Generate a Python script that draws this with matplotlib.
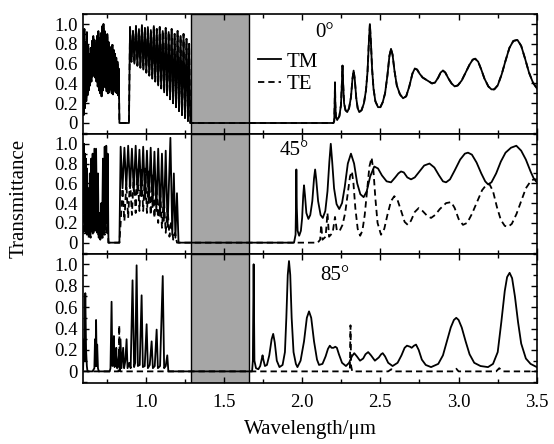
import numpy as np
import matplotlib
matplotlib.use("Agg")
import matplotlib.pyplot as plt
from matplotlib.ticker import MultipleLocator, FuncFormatter

plt.rcParams['font.family'] = ['Liberation Serif', 'DejaVu Serif']

# Spectral window covered by the gray band (um)
GAP_BAND = (1.29, 1.66)

# ---- 0 deg incidence (TE == TM at normal incidence) ----
# densely oscillating short-wave region, sampled evenly on 0.600..0.832 um
T0_DENSE_RANGE = (0.600, 0.832)
T0_DENSE = [0.88, 0.08, 0.95, 0.15, 0.82, 0.22, 0.92, 0.28, 0.78, 0.33,
            0.70, 0.38, 0.76, 0.42, 0.83, 0.47, 0.88, 0.50, 0.84, 0.46,
            0.79, 0.42, 0.88, 0.37, 0.93, 0.33, 0.86, 0.30, 0.91, 0.27,
            0.98, 0.33, 1.00, 0.38, 0.93, 0.36, 0.86, 0.32, 0.90, 0.30,
            0.82, 0.31, 0.77, 0.34, 0.72, 0.30, 0.79, 0.29, 0.74, 0.33,
            0.70, 0.31, 0.66, 0.30, 0.62, 0.28, 0.55, 0.00]
T0_COMB = [
    (0.832, 0.0), (0.893, 0.0), (0.900, 0.97), (0.909, 0.62), (0.919, 0.93),
    (0.928, 0.60), (0.938, 0.98), (0.947, 0.58), (0.957, 0.95), (0.966, 0.56),
    (0.976, 0.99), (0.985, 0.54), (0.995, 0.96), (1.004, 0.51), (1.014, 0.97),
    (1.023, 0.48), (1.033, 0.94), (1.042, 0.45), (1.052, 0.98), (1.061, 0.42),
    (1.071, 0.95), (1.080, 0.38), (1.090, 0.97), (1.099, 0.35), (1.109, 0.93),
    (1.118, 0.31), (1.128, 0.96), (1.137, 0.28), (1.147, 0.92), (1.156, 0.24),
    (1.166, 0.95), (1.175, 0.20), (1.185, 0.90), (1.194, 0.16), (1.204, 0.93),
    (1.213, 0.12), (1.223, 0.88), (1.232, 0.08), (1.242, 0.90), (1.251, 0.05),
    (1.261, 0.85), (1.270, 0.02), (1.278, 0.80), (1.285, 0.0),
]
T0_LONG = [
    (2.200, 0.0), (2.205, 0.02), (2.208, 0.20), (2.210, 0.41), (2.212, 0.20),
    (2.216, 0.06), (2.224, 0.03), (2.238, 0.07), (2.248, 0.18), (2.254, 0.40),
    (2.258, 0.58), (2.262, 0.40), (2.268, 0.20), (2.277, 0.13), (2.288, 0.11),
    (2.300, 0.15), (2.312, 0.26), (2.322, 0.45), (2.329, 0.53), (2.336, 0.45),
    (2.346, 0.25), (2.355, 0.15), (2.365, 0.11), (2.380, 0.13), (2.395, 0.20),
    (2.408, 0.33), (2.418, 0.52), (2.426, 0.80), (2.433, 1.00), (2.440, 0.80),
    (2.447, 0.55), (2.456, 0.35), (2.468, 0.22), (2.485, 0.16), (2.500, 0.16),
    (2.515, 0.21), (2.530, 0.30), (2.545, 0.48), (2.558, 0.68), (2.568, 0.75),
    (2.578, 0.69), (2.590, 0.53), (2.605, 0.38), (2.625, 0.29), (2.645, 0.25),
    (2.665, 0.27), (2.685, 0.37), (2.705, 0.50), (2.720, 0.55), (2.735, 0.54),
    (2.750, 0.50), (2.770, 0.46), (2.800, 0.43), (2.830, 0.40), (2.850, 0.41),
    (2.870, 0.46), (2.885, 0.51), (2.900, 0.53), (2.915, 0.51), (2.935, 0.45),
    (2.955, 0.40), (2.975, 0.37), (2.995, 0.38), (3.020, 0.43), (3.045, 0.51),
    (3.070, 0.59), (3.090, 0.64), (3.106, 0.65), (3.125, 0.62), (3.145, 0.54),
    (3.165, 0.45), (3.190, 0.37), (3.210, 0.34), (3.228, 0.34), (3.250, 0.38),
    (3.275, 0.49), (3.300, 0.63), (3.325, 0.76), (3.350, 0.83), (3.376, 0.84),
    (3.400, 0.78), (3.425, 0.65), (3.450, 0.51), (3.475, 0.41), (3.500, 0.35),
]

# ---- 45 deg incidence ----
TM45 = [
    (0.600, 0.95), (0.603, 0.30), (0.606, 1.00), (0.609, 0.25), (0.612, 0.90),
    (0.615, 0.20), (0.618, 0.85), (0.621, 0.15), (0.625, 0.75), (0.629, 0.10),
    (0.634, 0.55), (0.638, 0.08), (0.643, 0.70), (0.647, 0.10), (0.652, 0.85),
    (0.656, 0.12), (0.661, 0.90), (0.666, 0.10), (0.672, 0.95), (0.678, 0.15),
    (0.683, 0.95), (0.690, 0.10), (0.695, 0.70), (0.700, 0.05), (0.705, 0.30),
    (0.710, 0.03), (0.716, 0.40), (0.721, 0.05), (0.727, 0.85), (0.732, 0.10),
    (0.738, 0.97), (0.743, 0.15), (0.748, 0.98), (0.753, 0.20), (0.757, 0.90),
    (0.762, 0.0), (0.832, 0.0), (0.840, 0.97), (0.852, 0.55), (0.864, 0.96),
    (0.876, 0.55), (0.888, 0.98), (0.900, 0.55), (0.912, 0.95), (0.924, 0.52),
    (0.936, 0.98), (0.948, 0.50), (0.960, 0.94), (0.972, 0.47), (0.984, 0.97),
    (0.996, 0.44), (1.008, 0.93), (1.020, 0.40), (1.032, 0.96), (1.044, 0.36),
    (1.056, 0.92), (1.068, 0.32), (1.080, 0.95), (1.092, 0.27), (1.104, 0.90),
    (1.116, 0.22), (1.128, 0.93), (1.140, 0.16), (1.158, 1.06), (1.170, 0.08),
    (1.180, 0.70), (1.190, 0.05), (1.200, 0.50), (1.210, 0.0),
    (1.948, 0.0), (1.958, 0.08), (1.961, 0.40), (1.963, 0.74), (1.966, 0.35),
    (1.971, 0.12), (1.981, 0.07), (1.992, 0.12), (2.000, 0.25), (2.007, 0.48),
    (2.012, 0.58), (2.018, 0.48), (2.027, 0.30), (2.040, 0.24), (2.052, 0.28),
    (2.065, 0.42), (2.076, 0.65), (2.083, 0.74), (2.090, 0.64), (2.102, 0.42),
    (2.118, 0.28), (2.132, 0.25), (2.148, 0.32), (2.162, 0.52), (2.174, 0.82),
    (2.183, 1.00), (2.192, 0.82), (2.204, 0.55), (2.220, 0.39), (2.237, 0.34),
    (2.255, 0.40), (2.272, 0.56), (2.292, 0.80), (2.312, 0.90), (2.332, 0.80),
    (2.352, 0.60), (2.372, 0.49), (2.393, 0.46), (2.413, 0.52), (2.435, 0.67),
    (2.461, 0.77), (2.485, 0.75), (2.510, 0.68), (2.540, 0.62), (2.568, 0.61),
    (2.595, 0.66), (2.615, 0.70), (2.632, 0.72), (2.650, 0.71), (2.672, 0.66),
    (2.696, 0.64), (2.720, 0.66), (2.750, 0.72), (2.780, 0.78), (2.814, 0.80),
    (2.845, 0.76), (2.875, 0.68), (2.900, 0.62), (2.920, 0.61), (2.945, 0.64),
    (2.975, 0.73), (3.010, 0.84), (3.040, 0.90), (3.060, 0.91), (3.085, 0.89),
    (3.115, 0.81), (3.145, 0.70), (3.170, 0.62), (3.188, 0.59), (3.210, 0.61),
    (3.240, 0.70), (3.270, 0.82), (3.300, 0.91), (3.335, 0.96), (3.369, 0.98),
    (3.400, 0.93), (3.430, 0.84), (3.460, 0.72), (3.480, 0.65), (3.500, 0.61),
]
TE45 = [
    (0.600, 0.10), (0.604, 0.45), (0.608, 0.12), (0.612, 0.40), (0.616, 0.10),
    (0.620, 0.35), (0.625, 0.08), (0.630, 0.30), (0.636, 0.05), (0.642, 0.25),
    (0.648, 0.05), (0.655, 0.35), (0.661, 0.08), (0.668, 0.45), (0.674, 0.10),
    (0.680, 0.50), (0.686, 0.12), (0.692, 0.45), (0.698, 0.08), (0.704, 0.20),
    (0.710, 0.03), (0.718, 0.15), (0.725, 0.05), (0.732, 0.30), (0.738, 0.08),
    (0.744, 0.35), (0.750, 0.10), (0.756, 0.20), (0.762, 0.0), (0.832, 0.0),
    (0.840, 0.20), (0.852, 0.55), (0.864, 0.22), (0.876, 0.60), (0.888, 0.25),
    (0.900, 0.65), (0.912, 0.28), (0.924, 0.70), (0.936, 0.30), (0.948, 0.74),
    (0.960, 0.32), (0.972, 0.76), (0.984, 0.32), (0.996, 0.75), (1.008, 0.30),
    (1.020, 0.72), (1.032, 0.28), (1.044, 0.68), (1.056, 0.25), (1.068, 0.62),
    (1.080, 0.20), (1.092, 0.55), (1.104, 0.15), (1.116, 0.46), (1.128, 0.10),
    (1.140, 0.35), (1.152, 0.06), (1.164, 0.22), (1.176, 0.03), (1.188, 0.10),
    (1.200, 0.0), (2.100, 0.0), (2.115, 0.03), (2.122, 0.18), (2.130, 0.03),
    (2.150, 0.06), (2.162, 0.30), (2.172, 0.06), (2.195, 0.10), (2.210, 0.26),
    (2.222, 0.12), (2.240, 0.12), (2.258, 0.18), (2.275, 0.30), (2.292, 0.50),
    (2.306, 0.67), (2.318, 0.72), (2.328, 0.60), (2.340, 0.35), (2.355, 0.14),
    (2.371, 0.07), (2.385, 0.12), (2.400, 0.28), (2.415, 0.52), (2.430, 0.77),
    (2.444, 0.86), (2.456, 0.72), (2.468, 0.45), (2.482, 0.20), (2.504, 0.08),
    (2.525, 0.14), (2.545, 0.28), (2.568, 0.42), (2.589, 0.47), (2.610, 0.43),
    (2.635, 0.31), (2.655, 0.21), (2.675, 0.18), (2.695, 0.22), (2.720, 0.31),
    (2.745, 0.35), (2.770, 0.32), (2.800, 0.27), (2.824, 0.25), (2.850, 0.28),
    (2.880, 0.34), (2.920, 0.40), (2.953, 0.41), (2.975, 0.35), (3.000, 0.24),
    (3.028, 0.18), (3.055, 0.20), (3.085, 0.29), (3.120, 0.42), (3.150, 0.53),
    (3.175, 0.58), (3.198, 0.59), (3.220, 0.52), (3.245, 0.36), (3.270, 0.23),
    (3.295, 0.17), (3.316, 0.16), (3.340, 0.19), (3.370, 0.29), (3.400, 0.42),
    (3.430, 0.55), (3.460, 0.62), (3.480, 0.64), (3.500, 0.64),
]

# ---- 85 deg incidence ----
TM85 = [
    (0.600, 0.02), (0.605, 0.30), (0.609, 0.10), (0.614, 0.73), (0.619, 0.20),
    (0.624, 0.05), (0.628, 0.0), (0.660, 0.0), (0.672, 0.03), (0.676, 0.30),
    (0.679, 0.05), (0.683, 0.48), (0.687, 0.05), (0.690, 0.25), (0.695, 0.03),
    (0.700, 0.0), (0.770, 0.0), (0.775, 0.03), (0.782, 0.65), (0.787, 0.05),
    (0.792, 0.10), (0.797, 0.33), (0.801, 0.04), (0.806, 0.08), (0.812, 0.22),
    (0.817, 0.03), (0.824, 0.08), (0.829, 0.15), (0.833, 0.03), (0.839, 0.30),
    (0.845, 0.03), (0.856, 0.22), (0.862, 0.03), (0.870, 0.10), (0.878, 0.30),
    (0.884, 0.03), (0.895, 0.08), (0.904, 0.03), (0.916, 0.85), (0.926, 0.04),
    (0.933, 0.08), (0.942, 0.99), (0.950, 0.05), (0.962, 0.06), (0.974, 0.71),
    (0.982, 0.04), (0.994, 0.05), (1.006, 0.44), (1.014, 0.03), (1.026, 0.06),
    (1.038, 0.28), (1.046, 0.03), (1.058, 0.05), (1.070, 0.39), (1.078, 0.03),
    (1.092, 0.05), (1.109, 0.89), (1.118, 0.03), (1.128, 0.05), (1.138, 0.15),
    (1.145, 0.0), (1.680, 0.0), (1.685, 0.10), (1.690, 1.00), (1.695, 0.10),
    (1.705, 0.03), (1.720, 0.02), (1.732, 0.05), (1.742, 0.12), (1.747, 0.15),
    (1.752, 0.11), (1.762, 0.05), (1.775, 0.06), (1.790, 0.15), (1.805, 0.30),
    (1.815, 0.35), (1.825, 0.27), (1.838, 0.10), (1.855, 0.04), (1.875, 0.06),
    (1.890, 0.18), (1.899, 0.50), (1.908, 0.90), (1.916, 1.03), (1.924, 0.90),
    (1.933, 0.50), (1.945, 0.18), (1.960, 0.07), (1.970, 0.04), (1.990, 0.10),
    (2.012, 0.28), (2.030, 0.50), (2.044, 0.56), (2.058, 0.50), (2.076, 0.28),
    (2.095, 0.11), (2.108, 0.06), (2.130, 0.07), (2.150, 0.14), (2.165, 0.21),
    (2.177, 0.24), (2.188, 0.22), (2.200, 0.22), (2.212, 0.23), (2.222, 0.22),
    (2.235, 0.16), (2.255, 0.08), (2.280, 0.05), (2.300, 0.08), (2.318, 0.14),
    (2.333, 0.17), (2.350, 0.14), (2.370, 0.10), (2.390, 0.12), (2.405, 0.16),
    (2.422, 0.18), (2.440, 0.15), (2.465, 0.10), (2.490, 0.13), (2.505, 0.16),
    (2.515, 0.17), (2.530, 0.14), (2.550, 0.08), (2.578, 0.05), (2.610, 0.08),
    (2.635, 0.15), (2.655, 0.22), (2.670, 0.24), (2.690, 0.23), (2.700, 0.22),
    (2.715, 0.24), (2.728, 0.25), (2.745, 0.20), (2.765, 0.11), (2.790, 0.06),
    (2.824, 0.04), (2.870, 0.07), (2.900, 0.15), (2.925, 0.28), (2.950, 0.41),
    (2.970, 0.48), (2.985, 0.50), (3.000, 0.48), (3.020, 0.41), (3.045, 0.28),
    (3.070, 0.16), (3.100, 0.08), (3.140, 0.05), (3.188, 0.04), (3.220, 0.07),
    (3.250, 0.18), (3.273, 0.46), (3.295, 0.75), (3.310, 0.88), (3.326, 0.92),
    (3.342, 0.87), (3.360, 0.70), (3.380, 0.46), (3.400, 0.26), (3.430, 0.12),
    (3.460, 0.07), (3.500, 0.04),
]
TE85 = [
    (0.600, 0.0), (0.826, 0.0), (0.829, 0.15), (0.831, 0.43), (0.834, 0.10),
    (0.837, 0.0), (2.305, 0.0), (2.309, 0.43), (2.313, 0.05), (2.320, 0.0),
    (2.550, 0.0), (2.570, 0.02), (2.590, 0.0), (2.970, 0.0), (2.985, 0.025),
    (3.000, 0.0), (3.240, 0.0), (3.260, 0.03), (3.280, 0.0), (3.500, 0.0),
]

ANGLES = ["0°", "45°", "85°"]
ANGLE_POS = [(0.533, 0.85), (0.465, 0.865), (0.555, 0.83)]


def unzip(points):
    wl, t = zip(*points)
    return np.array(wl), np.array(t)


def fmt_t(v, pos):
    return "0" if abs(v) < 1e-9 else f"{v:.1f}"


# assemble the 0 deg curve
dense_wl = np.linspace(*T0_DENSE_RANGE, len(T0_DENSE))
wl_comb, t_comb = unzip(T0_COMB)
wl_long, t_long = unzip(T0_LONG)
wl0 = np.concatenate([dense_wl, wl_comb, wl_long])
t0 = np.concatenate([T0_DENSE, t_comb, t_long])

curves = [
    ((wl0, t0), (wl0, t0)),
    (unzip(TM45), unzip(TE45)),
    (unzip(TM85), unzip(TE85)),
]

fig = plt.figure(figsize=(5.54, 4.44), dpi=100)
gs = fig.add_gridspec(3, 1, height_ratios=[120, 120, 130], hspace=0,
                      left=0.150, right=0.969, top=0.968, bottom=0.137)
axes = [fig.add_subplot(gs[i]) for i in range(3)]

for i, ax in enumerate(axes):
    (tm_wl, tm_t), (te_wl, te_t) = curves[i]
    ax.axvspan(*GAP_BAND, facecolor='#a6a6a6', edgecolor='black', lw=1.0, zorder=1)
    ax.plot(te_wl, te_t, color='black', lw=1.3, ls=(0, (3.5, 2.2)), label='TE', zorder=2)
    ax.plot(tm_wl, tm_t, color='black', lw=1.3, label='TM', zorder=3)

    ax.set_xlim(0.6, 3.5)
    ax.set_ylim(-0.11, 1.10)
    ax.xaxis.set_major_locator(MultipleLocator(0.5))
    ax.xaxis.set_minor_locator(MultipleLocator(0.25))
    ax.yaxis.set_major_locator(MultipleLocator(0.2))
    ax.yaxis.set_minor_locator(MultipleLocator(0.1))
    ax.yaxis.set_major_formatter(FuncFormatter(fmt_t))
    ax.set_ylim(-0.11, 1.10)
    ax.tick_params(which='both', direction='in', top=True, right=True,
                   labelsize=13.5, width=1.0, pad=4)
    ax.tick_params(which='major', length=4)
    ax.tick_params(which='minor', length=3)
    for s in ax.spines.values():
        s.set_linewidth(1.2)
    if i < 2:
        ax.tick_params(labelbottom=False)
    else:
        ax.tick_params(axis='x', pad=8)
    ax.text(*ANGLE_POS[i], ANGLES[i], transform=ax.transAxes, fontsize=15,
            ha='center', va='center')

handles, labels = axes[0].get_legend_handles_labels()
axes[0].legend(handles[::-1], labels[::-1], loc='upper left',
               bbox_to_anchor=(0.385, 0.683), frameon=False, fontsize=15,
               handlelength=1.1, handletextpad=0.3, labelspacing=0.15,
               borderpad=0, borderaxespad=0)

axes[2].set_xlabel('Wavelength/μm', fontsize=15, labelpad=6)
fig.text(0.035, 0.553, 'Transmittance', rotation=90, fontsize=15,
         ha='center', va='center')

fig.savefig('out.png', dpi=100)
